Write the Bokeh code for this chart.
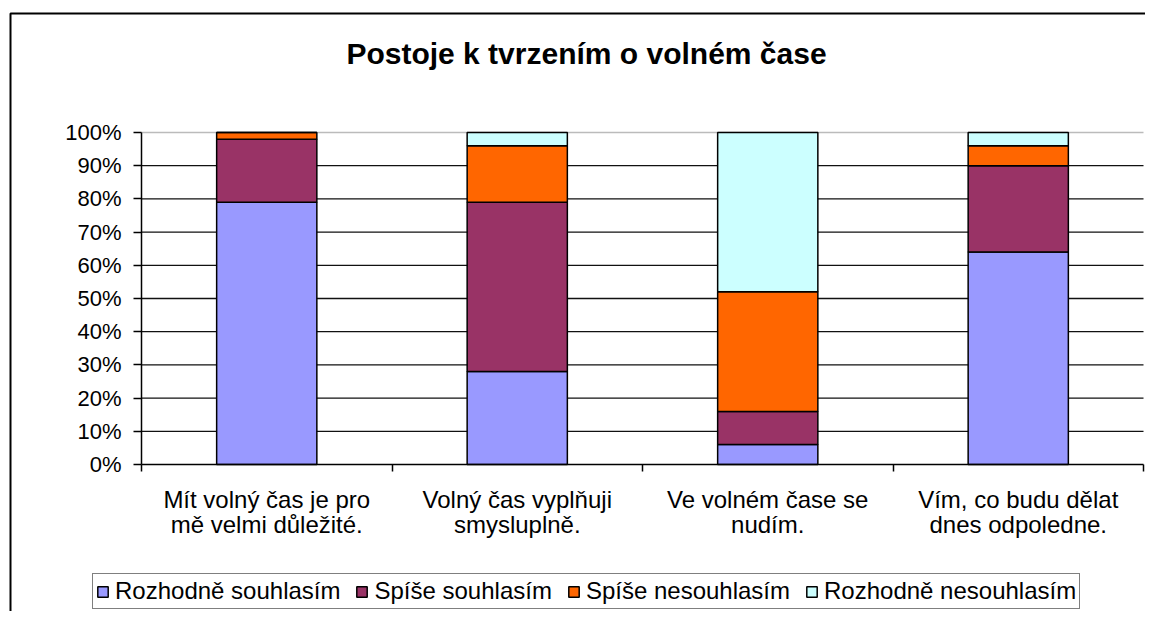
from bokeh.plotting import figure
from bokeh.models import (Range1d, FixedTicker, NumeralTickFormatter, Legend, LegendItem,
                          Label, BoxAnnotation, ColumnDataSource)
from bokeh.embed import file_html
from bokeh.resources import INLINE

title_text = "Postoje k tvrzením o volném čase"
categories = ["Mít volný čas je pro\nmě velmi důležité.",
              "Volný čas vyplňuji\nsmysluplně.",
              "Ve volném čase se\nnudím.",
              "Vím, co budu dělat\ndnes odpoledne."]
series = ["Rozhodně souhlasím", "Spíše souhlasím", "Spíše nesouhlasím", "Rozhodně nesouhlasím"]
rozhodne_souhlasim = [0.79, 0.28, 0.06, 0.64]
spise_souhlasim = [0.19, 0.51, 0.10, 0.26]
spise_nesouhlasim = [0.02, 0.17, 0.36, 0.06]
rozhodne_nesouhlasim = [0.00, 0.04, 0.48, 0.04]
y_ticks = [0.0, 0.1, 0.2, 0.3, 0.4, 0.5, 0.6, 0.7, 0.8, 0.9, 1.0]
colors = ["#9999FF", "#993366", "#FF6600", "#CCFFFF"]

FONT = "Liberation Sans"

# ---- layout (canvas pixels) ----
W, H = 1145, 611
PLOT_L, PLOT_R = 141, 1143      # x of first / last category boundary
PLOT_T, PLOT_B = 132, 464       # y of 100% / 0%
BORDER_X, BORDER_Y = 10, 13     # chart-area border (left / top)

n = len(categories)
centers = [i + 0.5 for i in range(n)]
bounds = list(range(n + 1))

px_x = (PLOT_R - PLOT_L) / (bounds[-1] - bounds[0])
px_y = (PLOT_B - PLOT_T) / (y_ticks[-1] - y_ticks[0])


def dx(sx):
    return bounds[0] + (sx - PLOT_L) / px_x


def dy(sy):
    return y_ticks[0] + (PLOT_B - sy) / px_y


x_range = Range1d(dx(0), dx(W))
y_range = Range1d(dy(H), dy(0))

keys = ["s0", "s1", "s2", "s3"]
source = ColumnDataSource(dict(x=centers, s0=rozhodne_souhlasim, s1=spise_souhlasim,
                               s2=spise_nesouhlasim, s3=rozhodne_nesouhlasim))

p = figure(width=W, height=H, min_border=0, x_range=x_range, y_range=y_range,
           output_backend="svg", toolbar_location=None)
p.styles = {"overflow": "hidden"}
p.background_fill_color = "white"
p.border_fill_color = "white"
p.outline_line_color = None
p.xgrid.visible = False
p.ygrid.visible = False

# chart-area border (its right and bottom edges lie outside the window)
p.add_layout(BoxAnnotation(left=dx(BORDER_X), top=dy(BORDER_Y),
                           right=dx(W + 50), bottom=dy(H + 50),
                           fill_alpha=0, line_color="black", line_alpha=1.0, line_width=2))

# gridlines limited to the plot area
p.segment(x0=bounds[0], x1=bounds[-1], y0=y_ticks[1:-1], y1=y_ticks[1:-1],
          line_color="#111111", line_width=1.3)
p.segment(x0=bounds[0], x1=bounds[-1], y0=y_ticks[-1:], y1=y_ticks[-1:],
          line_color="#BBBBBB", line_width=1.5)

renderers = p.vbar_stack(keys, x="x", width=0.4, color=colors, line_color="black",
                         line_width=1.5, source=source)

# axes at fixed positions
p.xaxis.fixed_location = y_ticks[0]
p.xaxis.bounds = (bounds[0], bounds[-1])
p.xaxis.ticker = FixedTicker(ticks=centers, minor_ticks=bounds)
p.xaxis.major_label_overrides = {c: lab for c, lab in zip(centers, categories)}
p.xaxis.major_tick_out = 0
p.xaxis.major_tick_in = 0
p.xaxis.minor_tick_out = 7
p.xaxis.minor_tick_in = 0
p.xaxis.minor_tick_line_color = "black"
p.xaxis.minor_tick_line_width = 1.5
p.xaxis.axis_line_color = "black"
p.xaxis.axis_line_width = 1.5
p.xaxis.major_label_text_font = FONT
p.xaxis.major_label_text_font_size = "24px"
p.xaxis.major_label_text_color = "black"
p.xaxis.major_label_text_line_height = 0.95
p.xaxis.major_label_standoff = 14
p.xaxis.major_label_text_align = "center"

p.yaxis.fixed_location = bounds[0]
p.yaxis.bounds = (y_ticks[0], y_ticks[-1])
p.yaxis.ticker = FixedTicker(ticks=y_ticks, minor_ticks=[])
p.yaxis.formatter = NumeralTickFormatter(format="0%")
p.yaxis.major_tick_out = 8
p.yaxis.major_tick_in = 0
p.yaxis.major_tick_line_color = "black"
p.yaxis.major_tick_line_width = 1.5
p.yaxis.axis_line_color = "black"
p.yaxis.axis_line_width = 1.5
p.yaxis.major_label_text_font = FONT
p.yaxis.major_label_text_font_size = "22px"
p.yaxis.major_label_text_color = "black"
p.yaxis.major_label_standoff = 12

# title
p.add_layout(Label(x=dx(586), y=dy(53),
                   text=title_text, text_font=FONT, text_font_size="30px",
                   text_font_style="bold", text_color="black",
                   text_align="center", text_baseline="middle"))

legend = Legend(items=[LegendItem(label=s, renderers=[r]) for s, r in zip(series, renderers)],
                orientation="horizontal", location=(92, 2),
                label_text_font=FONT, label_text_font_size="24px", label_text_color="black",
                glyph_width=13, glyph_height=13, label_standoff=6, spacing=15,
                padding=3, margin=0, border_line_color="black", border_line_width=1.5,
                background_fill_color="white", background_fill_alpha=1.0)
p.add_layout(legend)

open("out.html", "w").write(file_html(p, INLINE))
